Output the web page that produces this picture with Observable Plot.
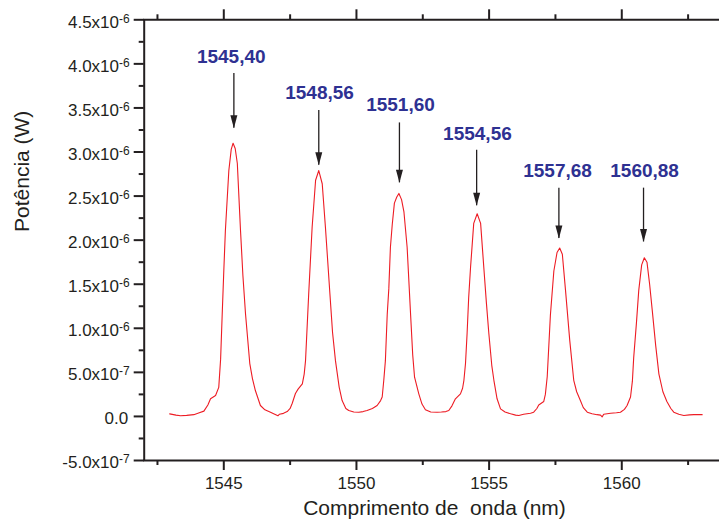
<!DOCTYPE html>
<html><head><meta charset="utf-8">
<script src="https://cdn.jsdelivr.net/npm/d3@7"></script>
<script src="https://cdn.jsdelivr.net/npm/@observablehq/plot@0.6"></script>
<style>
html,body{margin:0;padding:0;background:#fff;overflow:hidden;}
</style></head><body><div id="chart"></div>
<script>
// Spectrum (wavelength in nm, power in units of 1e-7 W)
const wavelength = [1542.96,1543.20,1543.37,1543.60,1543.87,1544.05,1544.25,1544.40,1544.50,1544.69,1544.81,1544.88,1544.94,1545.00,1545.06,1545.19,1545.28,1545.35,1545.43,1545.51,1545.63,1545.72,1545.82,1545.98,1546.08,1546.19,1546.38,1546.55,1546.76,1546.92,1547.04,1547.10,1547.25,1547.39,1547.50,1547.58,1547.70,1547.80,1547.96,1548.03,1548.08,1548.20,1548.33,1548.46,1548.58,1548.71,1548.83,1549.00,1549.10,1549.21,1549.35,1549.46,1549.60,1549.71,1549.90,1550.09,1550.25,1550.40,1550.60,1550.78,1550.91,1550.97,1551.03,1551.09,1551.16,1551.22,1551.28,1551.35,1551.43,1551.52,1551.60,1551.70,1551.79,1551.91,1552.04,1552.12,1552.19,1552.35,1552.47,1552.60,1552.80,1553.04,1553.20,1553.37,1553.48,1553.60,1553.73,1553.92,1554.00,1554.05,1554.11,1554.17,1554.23,1554.30,1554.42,1554.55,1554.68,1554.80,1554.90,1554.99,1555.10,1555.18,1555.30,1555.43,1555.60,1555.81,1556.00,1556.12,1556.30,1556.56,1556.68,1556.80,1556.87,1557.06,1557.12,1557.19,1557.25,1557.31,1557.44,1557.56,1557.66,1557.76,1557.88,1558.04,1558.19,1558.30,1558.44,1558.55,1558.70,1558.88,1559.07,1559.20,1559.26,1559.32,1559.58,1559.80,1559.95,1560.10,1560.20,1560.33,1560.40,1560.45,1560.55,1560.64,1560.75,1560.85,1560.95,1561.05,1561.15,1561.28,1561.40,1561.55,1561.70,1561.85,1561.96,1562.15,1562.34,1562.55,1562.72,1563.03];
const power = [0.29,0.15,0.07,0.12,0.20,0.40,0.60,1.3,2.0,2.37,3.3,6.5,11.6,16.5,21.1,27.9,30.3,31.0,30.4,28.7,21.1,16.0,11.6,6.0,4.3,2.94,1.24,0.75,0.48,0.25,0.07,0.25,0.35,0.55,0.9,1.5,2.6,3.1,3.7,4.8,6.3,13.9,21.5,26.8,27.9,26.4,21.5,13.9,9.5,6.3,3.3,1.8,0.9,0.67,0.5,0.48,0.55,0.67,0.9,1.24,1.8,2.2,4.1,6.3,11.6,14.5,19.2,21.8,24.2,24.9,25.3,24.6,23.2,19.2,11.6,7.0,4.45,2.56,1.4,0.75,0.5,0.48,0.5,0.55,0.67,1.2,2.0,2.56,3.2,4.1,6.0,9.4,13.5,16.9,21.9,23.0,21.9,16.9,12.8,9.4,5.8,4.1,2.0,0.86,0.5,0.3,0.15,0.1,0.25,0.36,0.48,0.9,1.3,1.7,2.5,4.5,8.0,11.5,16.5,18.6,19.1,18.4,14.3,8.6,4.1,2.8,1.8,1.0,0.48,0.3,0.2,0.15,-0.05,0.25,0.36,0.42,0.48,0.8,1.24,2.2,4.0,6.7,10.5,14.3,17.2,18.0,17.5,15.0,12.0,8.0,4.8,2.8,1.7,0.9,0.48,0.25,0.1,0.18,0.2,0.2];
const UNIT = 1e-7;

// Peak annotations
const peakLabels = ["1545,40","1548,56","1551,60","1554,56","1557,68","1560,88"];
const labelX = [1545.28,1548.61,1551.66,1554.56,1557.58,1560.86];
const labelY = [40.75,36.7,35.4,32.1,27.9,27.9];
const arrowX = [1545.38,1548.58,1551.62,1554.53,1557.63,1560.82];
const arrowTail = [38.9,34.7,33.3,30.2,25.9,25.9];
const arrowTip = [32.7,28.5,26.5,23.9,20.2,19.8];

// Axes
const xMajorTicks = [1545,1550,1555,1560];
const xMinorTicks = [1542.5,1547.5,1552.5,1557.5,1562.5];
const yMajorTicks = [-5e-7,0,5e-7,1e-6,1.5e-6,2e-6,2.5e-6,3e-6,3.5e-6,4e-6,4.5e-6];
const yTickMantissa = ["-5.0","0.0","5.0","1.0","1.5","2.0","2.5","3.0","3.5","4.0","4.5"];
const yTickExponent = ["-7","","-7","-6","-6","-6","-6","-6","-6","-6","-6"];
const yMinorTicks = [-2.5e-7,2.5e-7,7.5e-7,1.25e-6,1.75e-6,2.25e-6,2.75e-6,3.25e-6,3.75e-6,4.25e-6];
const xTitle = "Comprimento de  onda (nm)";
const yTitle = "Potência (W)";

const spectrum = wavelength.map((w, i) => ({w, p: power[i] * UNIT}));
const peaks = peakLabels.map((t, i) => ({t, lx: labelX[i], ly: labelY[i]*UNIT, ax: arrowX[i], a1: arrowTail[i]*UNIT, a2: arrowTip[i]*UNIT}));
const yTicks = yMajorTicks.map((v, i) => ({v, main: yTickMantissa[i] + (yTickExponent[i] ? "x10" : ""), exp: yTickExponent[i]}));

const ink = "#231f20";
const headSymbol = {draw(ctx) { ctx.moveTo(0, 0); ctx.lineTo(-3.5, -13); ctx.lineTo(3.5, -13); ctx.closePath(); }};
const X0 = 1542, YB = -5e-7, YT = 4.5e-6;

const chart = Plot.plot({
  width: 719, height: 528,
  marginLeft: 143, marginRight: 0, marginTop: 19, marginBottom: 68,
  style: {fontFamily: "'Liberation Sans', Arial, sans-serif", background: "white", color: ink, overflow: "hidden"},
  x: {domain: [1542, 1564], range: [143.7, 727.4], axis: null},
  y: {domain: [YB, YT], range: [460, 19.3], axis: null},
  marks: [
    Plot.line(spectrum, {x: "w", y: "p", stroke: "#ed1c24", strokeWidth: 1.1}),
    // axis lines
    Plot.ruleX([X0], {stroke: ink, strokeWidth: 2}),
    Plot.ruleY([YB, YT], {stroke: ink, strokeWidth: 2}),
    // bottom ticks
    Plot.ruleX(xMajorTicks, {x: d => d, y1: YB, y2: YB, insetBottom: -10, stroke: ink, strokeWidth: 2}),
    Plot.ruleX(xMinorTicks, {x: d => d, y1: YB, y2: YB, insetBottom: -5, stroke: ink, strokeWidth: 2}),
    // top ticks
    Plot.ruleX(xMajorTicks, {x: d => d, y1: YT, y2: YT, insetTop: -10, stroke: ink, strokeWidth: 2}),
    Plot.ruleX(xMinorTicks, {x: d => d, y1: YT, y2: YT, insetTop: -5, stroke: ink, strokeWidth: 2}),
    // left ticks
    Plot.ruleY(yMajorTicks, {y: d => d, x1: X0, x2: X0, insetLeft: -10, stroke: ink, strokeWidth: 2}),
    Plot.ruleY(yMinorTicks, {y: d => d, x1: X0, x2: X0, insetLeft: -5, stroke: ink, strokeWidth: 2}),
    // tick labels
    Plot.text(xMajorTicks, {x: d => d, y: YB, text: d => String(d), dy: 23, fontSize: 17, fill: ink}),
    Plot.text(yTicks.filter(d => d.exp), {x: X0, y: "v", text: "main", textAnchor: "end", dx: -25.2, dy: 2.4, fontSize: 17, fill: ink}),
    Plot.text(yTicks.filter(d => d.exp), {x: X0, y: "v", text: "exp", textAnchor: "start", dx: -25.2, dy: -1, fontSize: 12, fill: ink}),
    Plot.text(yTicks.filter(d => !d.exp), {x: X0, y: "v", text: "main", textAnchor: "end", dx: -16, dy: 2.4, fontSize: 17, fill: ink}),
    // axis titles
    Plot.text([xTitle], {frameAnchor: "bottom", dx: 3, dy: 54, fontSize: 21, fill: ink}),
    Plot.text([yTitle], {frameAnchor: "left", dx: -121, dy: -8, rotate: -90, fontSize: 21, fill: ink}),
    // peak annotations
    Plot.ruleX(peaks, {x: "ax", y1: "a1", y2: "a2", stroke: ink, strokeWidth: 1.3}),
    Plot.dot(peaks, {x: "ax", y: "a2", symbol: headSymbol, r: 3, fill: ink, stroke: "none"}),
    Plot.text(peaks, {x: "lx", y: "ly", text: "t", fontSize: 19, fontWeight: "bold", fill: "#2e3192"})
  ]
});
document.getElementById("chart").append(chart);
</script></body></html>
